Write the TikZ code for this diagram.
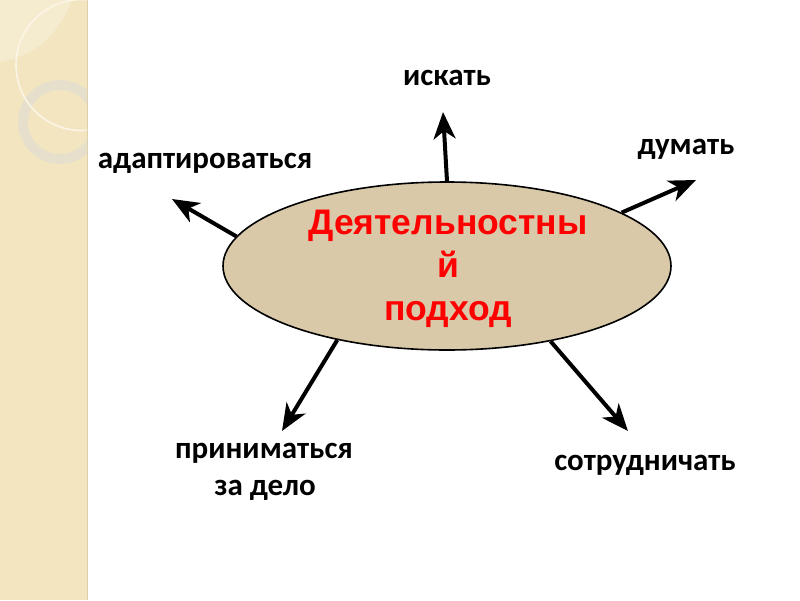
\documentclass[tikz,border=0pt]{standalone}
\usepackage{fontspec}
\setmainfont{Carlito}
\newfontfamily\arialfont{Liberation Sans}
\usepackage{tikz}
\usetikzlibrary{calc}
\usetikzlibrary{shapes.geometric}
\usetikzlibrary {arrows.meta}
\usepackage{xcolor}
\definecolor{stripe}{RGB}{242,229,192}
\definecolor{stripelight}{RGB}{245,235,207}
\definecolor{stripeedge}{RGB}{222,208,170}
\definecolor{ringc}{RGB}{229,223,205}
\definecolor{corefill}{RGB}{217,201,168}

\begin{document}
\begin{tikzpicture}[x=1pt, y=-1pt,
		core/.style = {ellipse, draw=black, fill=corefill, line width=1.6pt, minimum width=448pt, minimum height=168pt, inner sep=0pt},
		coretext/.style = {align=center, inner sep=0pt, text=red, font=\arialfont\fontsize{35.5}{43}\selectfont\bfseries},
		lbl/.style = {inner sep=0pt, anchor=base, font=\fontsize{31}{37}\selectfont\bfseries},
		r/.style = {-{Stealth[length=27pt, width=22pt, inset=8pt]}, line width=4pt}
		]
		
		%Background
		\useasboundingbox (0,0) rectangle (800,600);
		\fill[white] (0,0) rectangle (800,600);
		\fill[stripe] (0,0) rectangle (87,600);
		\begin{scope}
			\clip (0,0) rectangle (87,600);
			\fill[stripelight] (0,0) -- (72,0) .. controls (60,30) and (40,55) .. (0,62) -- cycle;
			\draw[ringc, line width=10pt, opacity=0.85] (60,122) circle (37);
			\draw[white!60!stripe, line width=1.6pt] (81.5,65) circle (65.5);
		\end{scope}
		\draw[stripeedge, line width=1pt] (87,0) -- (87,600);
		
		%Nodes
		\node[core]		(core)		at	(447,266)	{};
		\node[coretext]	(title)		at	(448,269)	{Деятельностны\\й\\подход};
		\node[lbl]		(iskat)		at	(447,85)	{искать};
		\node[lbl]		(dumat)		at	(686,154)	{думать};
		\node[lbl]		(adapt)		at	(205,168)	{адаптироваться};
		\node[lbl]		(prin)		at	(264,458)	{приниматься};
		\node[lbl]		(zadelo)	at	(265,495)	{за дело};
		\node[lbl]		(sotr)		at	(645,470)	{сотрудничать};
		
		%Arrow tips
		\coordinate	(tIskat)	at	(443,112);
		\coordinate	(tDumat)	at	(696,180);
		\coordinate	(tAdapt)	at	(172,199);
		\coordinate	(tPrin)		at	(282,431);
		\coordinate	(tSotr)		at	(628,431);
		
		%Lines
		\draw[r]	(core.90)	--	(tIskat);
		\draw[r]	(core.17)	--	(tDumat);
		\draw[r]	(core.172)	--	(tAdapt);
		\draw[r]	(core.214)	--	(tPrin);
		\draw[r]	(core.324)	--	(tSotr);
	\end{tikzpicture}
\end{document}
